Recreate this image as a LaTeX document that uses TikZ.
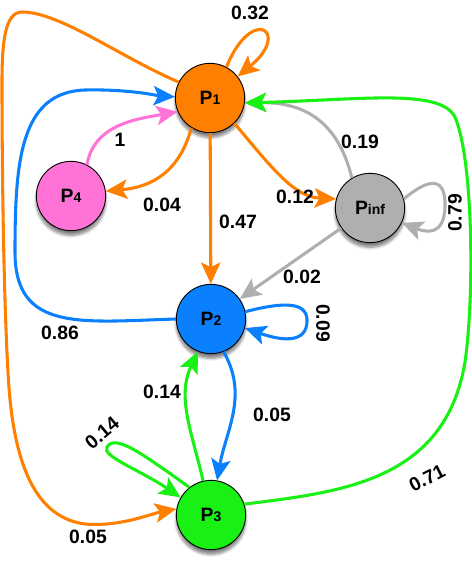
\documentclass[tikz,border=0pt]{standalone}
\usepackage{fontspec}
\setmainfont{Liberation Sans}
\usetikzlibrary{arrows.meta, positioning, shadows.blur}
\definecolor{StOrange}{RGB}{255,128,0}
\definecolor{StBlue}{RGB}{10,128,255}
\definecolor{StGreen}{RGB}{25,240,20}
\definecolor{StPink}{RGB}{255,115,215}
\definecolor{StGray}{RGB}{175,175,175}
\newcommand{\stname}[1]{P{\fontsize{10.5}{11}\selectfont #1}}

\begin{document}
\begin{tikzpicture}[
    x=0.75pt, y=0.75pt,
    font=\fontsize{14.5}{16}\selectfont\bfseries,
    st/.style={circle, draw=black, line width=0.7pt, minimum size=52pt,
        inner sep=0pt, blur shadow={shadow xshift=0pt, shadow yshift=-3.5pt,
        shadow blur steps=6, shadow opacity=50}},
    flow/.style={-{Stealth[length=16pt, width=14.5pt, inset=3.5pt]}, line width=2.3pt},
    lbl/.style={inner sep=1pt},
]
\useasboundingbox (0,0) rectangle (472,562);

% estados
\node[st, fill=StOrange] (p1)   at (210,464) {\stname{1}};
\node[st, fill=StPink]   (p4)   at (71,366)  {\stname{4}};
\node[st, fill=StGray]   (pinf) at (370,354) {\stname{inf}};
\node[st, fill=StBlue]   (p2)   at (211,243) {\stname{2}};
\node[st, fill=StGreen]  (p3)   at (211,47)  {\stname{3}};

% salidas de p1
\draw[flow, StOrange] (p1.62) .. controls (252,558) and (292,530) .. (p1.38);
\draw[flow, StOrange] (p1.153) .. controls (120,505) and (60,550) .. (22,550)
    .. controls (5,550) and (2,520) .. (2,480)
    .. controls (2,380) and (4,260) .. (8,190)
    .. controls (12,110) and (30,45) .. (85,38)
    .. controls (120,35) and (150,48) .. (p3.170);
\draw[flow, StOrange] (p1.238) to[out=255, in=5, looseness=1.1] (p4.8);
\draw[flow, StOrange] (p1) -- (p2);
\draw[flow, StOrange] (p1.-46) .. controls (275,390) and (295,365) .. (pinf.165);

% entradas a p1
\draw[flow, StPink] (p4.63) to[out=80, in=190] (p1.203);
\draw[flow, StBlue] (p2.west) .. controls (80,240) and (15,230) .. (15,310)
    .. controls (15,400) and (20,470) .. (85,472)
    .. controls (130,473) and (160,466) .. (p1.178);
\draw[flow, StGray] (pinf.121) .. controls (338,440) and (305,460) .. (p1.-8);
\draw[flow, StGreen] (p3.18) .. controls (340,70) and (445,80) .. (465,200)
    .. controls (474,260) and (474,400) .. (455,445)
    .. controls (440,474) and (360,462) .. (p1.-8);

% pinf
\draw[flow, StGray] (pinf.15) .. controls (430,385) and (446,385) .. (445,355)
    .. controls (444,325) and (425,330) .. (pinf.-25);
\draw[flow, StGray] (pinf) -- (p2);

% p2 y p3
\draw[flow, StBlue] (p2.12) .. controls (290,262) and (308,258) .. (307,240)
    .. controls (306,220) and (285,220) .. (p2.-15);
\draw[flow, StBlue] (p2.-69) to[out=-60, in=80] (p3.80);
\draw[flow, StGreen] (p3.103) to[out=103, in=245] (p2.248);
\draw[flow, StGreen] (p3.128) .. controls (140,110) and (115,128) .. (107,115)
    .. controls (101,106) and (140,92) .. (p3.150);

% probabilidades
\node[lbl] (l11)   at (250,549) {0.32};
\node[lbl] (l13)   at (88,25)   {0.05};
\node[lbl] (l14)   at (162,357) {0.04};
\node[lbl] (l12)   at (238,340) {0.47};
\node[lbl] (l1i)   at (295,365) {0.12};
\node[lbl] (l41)   at (120,422) {1};
\node[lbl] (l21)   at (60,229)  {0.86};
\node[lbl] (li1)   at (360,420) {0.19};
\node[lbl] (lii)   at (455,349) [rotate=90] {0.79};
\node[lbl] (li2)   at (302,285) {0.02};
\node[lbl] (l22)   at (323,239) [rotate=-90] {0.09};
\node[lbl] (l23)   at (272,147) {0.05};
\node[lbl] (l32)   at (162,170) {0.14};
\node[lbl] (l33)   at (102,129) [rotate=40] {0.14};
\node[lbl] (l31)   at (427,84)  [rotate=27] {0.71};

\end{tikzpicture}
\end{document}
